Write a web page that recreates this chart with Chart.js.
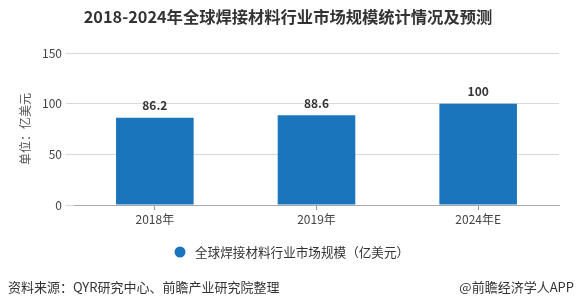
<!DOCTYPE html>
<html>
<head>
<meta charset="utf-8">
<script src="https://cdn.jsdelivr.net/npm/chart.js@4.4.0/dist/chart.umd.min.js"></script>
<style>
  html, body { margin: 0; padding: 0; background: #fff; }
  #wrap { width: 576px; height: 305px; }
</style>
</head>
<body>
<div id="wrap"><canvas id="chart" width="576" height="305"></canvas></div>
<script>
var categories = ['2018年', '2019年', '2024年E'];
var marketSize = [86.2, 88.6, 100];
var yTicks = [0, 50, 100, 150];

var titleText = '2018-2024年全球焊接材料行业市场规模统计情况及预测';
var legendText = '全球焊接材料行业市场规模（亿美元）';
var sourceText = '资料来源：QYR研究中心、前瞻产业研究院整理';
var brandText = '@前瞻经济学人APP';

var barColor = '#1b75bc';
var cjk = '"Microsoft YaHei", "Noto Sans CJK SC", sans-serif';

// labels above bars, title, legend and footer
const extras = {
  id: 'extras',
  afterDatasetsDraw(chart) {
    const ctx = chart.ctx;
    const meta = chart.getDatasetMeta(0);
    ctx.save();
    ctx.font = 'bold 12px ' + cjk;
    ctx.fillStyle = '#333';
    ctx.textAlign = 'center';
    ctx.textBaseline = 'middle';
    meta.data.forEach((bar, i) => {
      ctx.fillText(String(marketSize[i]), bar.x, bar.y - 12);
    });
    ctx.restore();
  },
  afterDraw(chart) {
    const ctx = chart.ctx;
    ctx.save();
    ctx.textBaseline = 'middle';

    ctx.font = 'bold 16.3px ' + cjk;
    ctx.fillStyle = '#333';
    ctx.textAlign = 'center';
    ctx.fillText(titleText, 288, 17);

    ctx.font = '12.6px ' + cjk;
    ctx.textAlign = 'left';
    ctx.fillStyle = barColor;
    ctx.beginPath();
    ctx.arc(180, 252, 5.5, 0, Math.PI * 2);
    ctx.fill();
    ctx.fillStyle = '#333';
    ctx.fillText(legendText, 195, 252);

    ctx.font = '13px ' + cjk;
    ctx.fillStyle = '#333';
    ctx.fillText(sourceText, 8, 287);
    ctx.textAlign = 'right';
    ctx.fillText(brandText, 574, 287);
    ctx.restore();
  }
};

new Chart(document.getElementById('chart').getContext('2d'), {
  type: 'bar',
  data: {
    labels: categories,
    datasets: [{
      label: legendText,
      data: marketSize,
      backgroundColor: barColor,
      categoryPercentage: 1,
      barPercentage: 0.48
    }]
  },
  options: {
    responsive: false,
    animation: false,
    layout: { padding: { top: 53, left: 0, right: 17, bottom: 70 } },
    plugins: {
      legend: { display: false },
      title: { display: false },
      tooltip: { enabled: false }
    },
    scales: {
      x: {
        afterFit: s => { s.height = 30; },
        grid: { drawOnChartArea: false, offset: false, tickLength: 5, color: '#999' },
        border: { color: '#aaa' },
        ticks: { color: '#444', font: { size: 12, family: cjk }, padding: 2 }
      },
      y: {
        min: 0,
        max: 150,
        afterFit: s => { s.width = 74; },
        afterBuildTicks: s => { s.ticks = yTicks.map(v => ({ value: v })); },
        grid: { color: '#d9d9d9', tickLength: 8 },
        border: { display: false },
        ticks: { color: '#444', font: { size: 12, family: cjk }, padding: 4 },
        title: {
          display: true,
          text: '单位：亿美元',
          color: '#555',
          font: { size: 12, family: cjk },
          padding: { top: 18, bottom: 0 }
        }
      }
    }
  },
  plugins: [extras]
});
</script>
</body>
</html>
